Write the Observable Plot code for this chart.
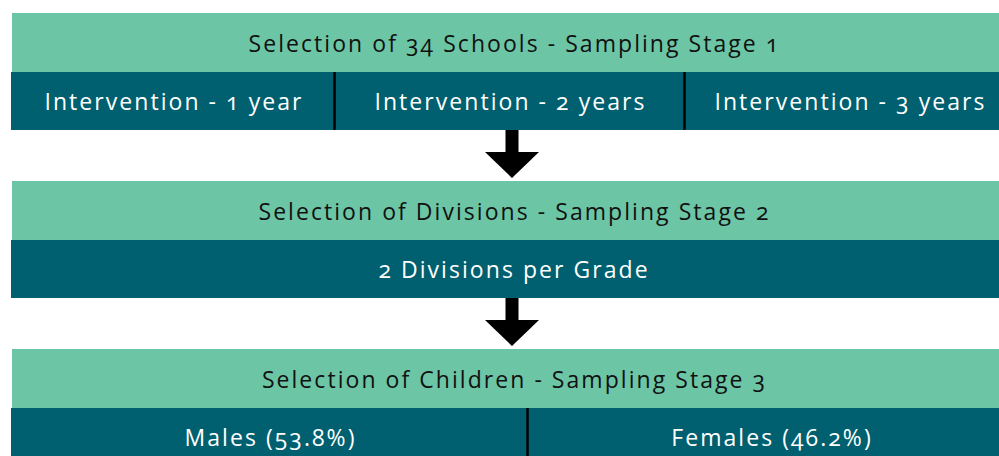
<!DOCTYPE html>
<html>
<head>
<meta charset="utf-8">
<script src="https://cdn.jsdelivr.net/npm/d3@7"></script>
<script src="https://cdn.jsdelivr.net/npm/@observablehq/plot@0.6"></script>
<style>
  html, body { margin: 0; padding: 0; background: #fff; }
  #chart svg { display: block; font-variant-numeric: oldstyle-nums; font-feature-settings: "onum" 1; }
  #chart svg text { letter-spacing: 2.05px; }
</style>
</head>
<body>
<div id="chart"></div>
<script>
// ---- data ----
const stageTitles = [
  "Selection of 34 Schools - Sampling Stage 1",
  "Selection of Divisions - Sampling Stage 2",
  "Selection of Children - Sampling Stage 3"
];
const stage1Groups = ["Intervention - 1 year", "Intervention - 2 years", "Intervention - 3 years"];
const stage2Groups = ["2 Divisions per Grade"];
const stage3Groups = ["Males (53.8%)", "Females (46.2%)"];

// ---- layout (diagram geometry, in pixel units of the frame) ----
const W = 999, H = 456;
const LEFT = 11, RIGHT = 1014;           // diagram extends past right edge (cropped)
const stageTop = [13, 181, 349];
const titleH = 59, subH = 58;
const splits = [
  [LEFT, 334, 684, RIGHT],
  [LEFT, RIGHT],
  [LEFT, 527, RIGHT]
];
const groups = [stage1Groups, stage2Groups, stage3Groups];
const LIGHT = "#6cc6a6", DARK = "#00606f";
const FONT = "'Open Sans', Lato, sans-serif";

const titleRows = stageTitles.map((t, i) => ({
  label: t, x1: LEFT + 1, x2: RIGHT, y1: stageTop[i], y2: stageTop[i] + titleH
}));
const subRows = [];
groups.forEach((g, i) => {
  g.forEach((label, j) => {
    subRows.push({
      label, x1: splits[i][j], x2: splits[i][j + 1],
      y1: stageTop[i] + titleH, y2: stageTop[i] + titleH + subH
    });
  });
});
const dividers = [];
splits.forEach((s, i) => {
  s.slice(1, -1).forEach(x => dividers.push({
    x, y1: stageTop[i] + titleH, y2: stageTop[i] + titleH + subH
  }));
});
// arrows between stages
const arrowCx = 512;
const shafts = [], heads = [];
for (let i = 0; i < 2; i++) {
  const top = stageTop[i] + titleH + subH;
  const base = top + 22, tip = top + 48;
  shafts.push({ x1: arrowCx - 6.5, x2: arrowCx + 6.5, y1: top, y2: base });
  heads.push(
    { k: i, x: arrowCx - 27, y1: base, y2: base },
    { k: i, x: arrowCx, y1: base, y2: tip },
    { k: i, x: arrowCx + 27, y1: base, y2: base }
  );
}

const chart = Plot.plot({
  width: W, height: H,
  margin: 0,
  x: { domain: [0, W], range: [0, W], axis: null },
  y: { domain: [0, H], range: [0, H], axis: null },
  style: { fontFamily: FONT, background: "white" },
  marks: [
    Plot.rect(titleRows, { x1: "x1", x2: "x2", y1: "y1", y2: "y2", fill: LIGHT, clip: true }),
    Plot.rect(subRows, { x1: "x1", x2: "x2", y1: "y1", y2: "y2", fill: DARK, clip: true }),
    Plot.ruleX(dividers, { x: "x", y1: "y1", y2: "y2", stroke: "black", strokeWidth: 2.5 }),
    Plot.text(titleRows, {
      x: d => (d.x1 + d.x2) / 2 + 1, y: d => (d.y1 + d.y2) / 2, dy: 1.5,
      text: "label", fill: "#111", fontSize: 23, clip: true
    }),
    Plot.text(subRows, {
      x: d => (d.x1 + d.x2) / 2 + 1, y: d => (d.y1 + d.y2) / 2, dy: 1.5,
      text: "label", fill: "white", fontSize: 23, clip: true
    }),
    Plot.rect(shafts, { x1: "x1", x2: "x2", y1: "y1", y2: "y2", fill: "black" }),
    Plot.areaY(heads, { x: "x", y1: "y1", y2: "y2", z: "k", fill: "black", curve: "linear" })
  ]
});
document.getElementById("chart").appendChild(chart);
</script>
</body>
</html>
